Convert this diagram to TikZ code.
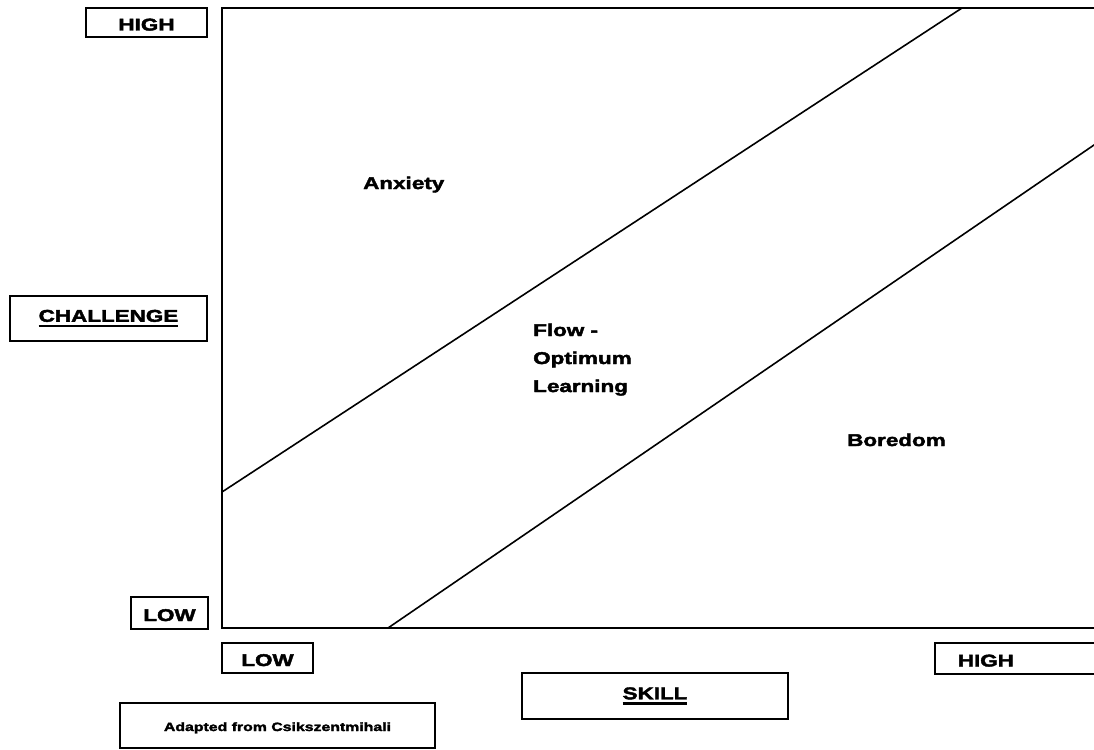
\documentclass[tikz,border=0pt]{standalone}
\usepackage{fontspec}
\usetikzlibrary{calc}
\setmainfont{Liberation Sans}[FakeStretch=1.32, BoldFeatures={FakeBold=2.5}]
\newcommand\ulbox[1]{\vtop{\hbox{#1}\kern3pt\hrule height 2.2pt}}
\begin{document}
\begin{tikzpicture}[x=1pt,y=-1pt,
  lbl/.style={font=\fontsize{17}{28}\selectfont\bfseries, inner sep=0pt},
  boxlbl/.style={draw, line width=1.6pt, font=\fontsize{17}{20}\selectfont\bfseries, inner sep=0pt},
  single/.style={text height=16pt, text depth=0pt},
  frame/.style={line width=1.8pt},
  zone/.style={line width=1.6pt}]
\useasboundingbox (0,0) rectangle (1094,749);
\clip (0,0) rectangle (1094,749);
% frame
\coordinate (tr) at (1100,8);
\coordinate (tl) at (222,8);
\coordinate (bl) at (222,628);
\coordinate (br) at (1100,628);
\draw[frame] (tr) -- (tl) -- (bl) -- (br);
% zone boundaries
\coordinate (a1) at (222,492);
\coordinate (a2) at (962,8);
\coordinate (b1) at (388,628);
\coordinate (b2) at (1094,145);
\draw[zone] (a1) -- (a2);
\draw[zone] (b1) -- ($(b1)!1.02!(b2)$);
% axis boxes
\node[boxlbl, single, minimum width=121, minimum height=29] (hightop) at (146.5,22.5) {HIGH};
\node[boxlbl, minimum width=197, minimum height=45] (chal) at (108.5,318.5) {\ulbox{CHALLENGE}};
\node[boxlbl, single, minimum width=77, minimum height=32] (lowleft) at (169.5,613) {LOW};
\node[boxlbl, single, minimum width=91, minimum height=30] (lowbot) at (267.5,658) {LOW};
\node[boxlbl, single, anchor=west, minimum height=31, text width=120pt, align=left, inner xsep=23pt] (highbot) at (934,658.5) {HIGH};
\node[boxlbl, minimum width=266, minimum height=46] (skill) at (655,696) {\ulbox{SKILL}};
\node[boxlbl, font=\fontsize{12}{14}\selectfont\bfseries, text height=11pt, text depth=0pt, minimum width=315, minimum height=45] (adapted) at (277.5,725.5) {Adapted from Csikszentmihali};
% zone labels
\node[lbl, anchor=base west] (anx) at (363,189) {Anxiety};
\node[lbl, anchor=base west, align=left] (flow) at (533,392) {Flow -\\Optimum\\Learning};
\node[lbl, anchor=base west] (bored) at (847,446) {Boredom};
\end{tikzpicture}
\end{document}
